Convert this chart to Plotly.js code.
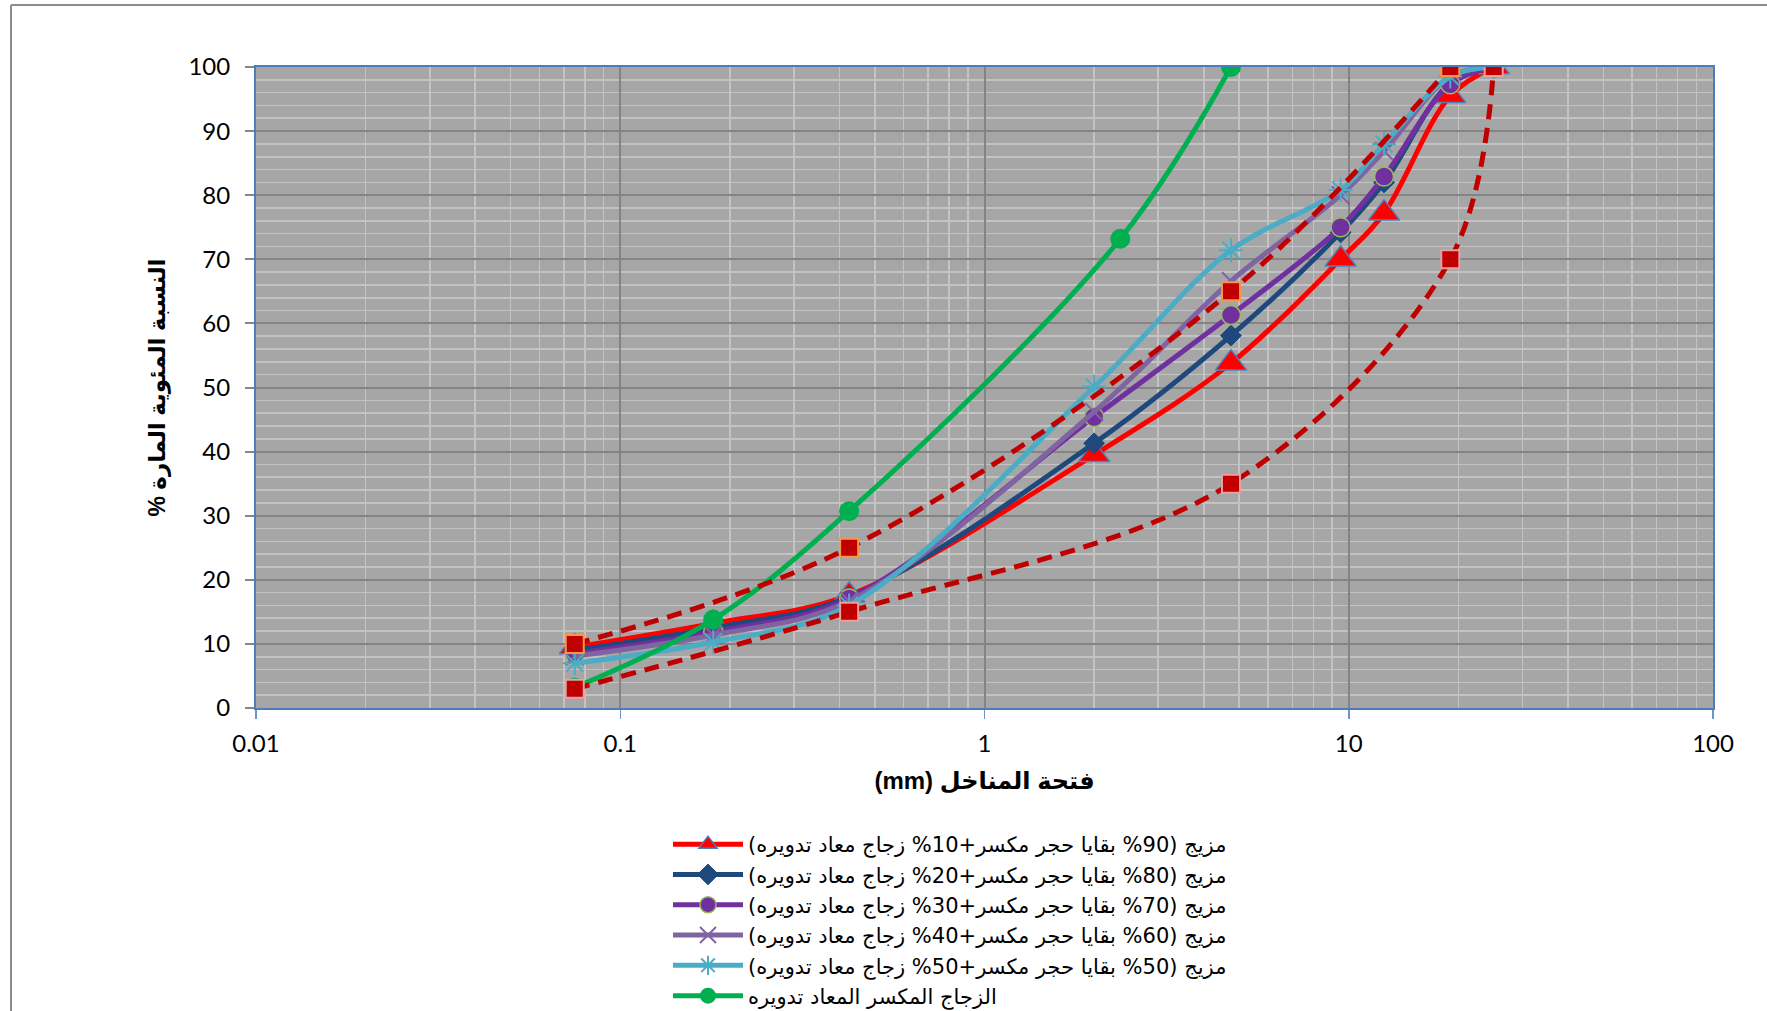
<!DOCTYPE html>
<html>
<head>
<meta charset="utf-8">
<script src="https://cdn.plot.ly/plotly-3.0.1.min.js"></script>
<style>
  html, body { margin: 0; padding: 0; background: #ffffff; }
  #chart { width: 1767px; height: 1011px; }
</style>
</head>
<body>
<div id="chart"></div>
<script>
// ---- data ----
const sieveSizes = [0.075, 0.18, 0.425, 2, 4.75, 9.5, 12.5, 19, 25];
const mix10 = [9.5, 13.2, 17.6, 39.5, 53.8, 70.0, 77.2, 95.5, 100];
const mix20 = [9.0, 12.5, 17.3, 41.3, 58.1, 74.2, 82.0, 97.5, 100];
const mix30 = [8.5, 11.9, 17.1, 45.4, 61.3, 75.0, 82.9, 97.3, 100];
const mix40 = [8.1, 11.4, 16.7, 46.2, 66.6, 80.0, 86.9, 98.5, 100];
const mix50 = [7.0, 10.3, 16.0, 50.1, 71.4, 80.8, 88.0, 98.5, 100];
const glassSizes = [0.075, 0.18, 0.425, 2.36, 4.75];
const glassPassing = [3.2, 13.8, 30.7, 73.2, 100];
const upperLimitSizes = [0.075, 0.425, 4.75, 19];
const upperLimit = [10, 25, 65, 100];
const lowerLimitSizes = [0.075, 0.425, 4.75, 19, 25];
const lowerLimit = [3, 15, 35, 70, 100];
const seriesNames = [
  "مزيج (90% بقايا حجر مكسر+10% زجاج معاد تدويره)",
  "مزيج (80% بقايا حجر مكسر+20% زجاج معاد تدويره)",
  "مزيج (70% بقايا حجر مكسر+30% زجاج معاد تدويره)",
  "مزيج (60% بقايا حجر مكسر+40% زجاج معاد تدويره)",
  "مزيج (50% بقايا حجر مكسر+50% زجاج معاد تدويره)",
  "الزجاج المكسر المعاد تدويره"
];
const xTickVals = [0.01, 0.1, 1, 10, 100];
const xTickText = ["0.01", "0.1", "1", "10", "100"];
const xTitle = "فتحة المناخل (mm)";
const yTitle = "النسبة المئوية المارة %";

// ---- helpers ----
const rtl = s => "\u202B" + s + "\u202C";
const textFont = 'Liberation Sans, DejaVu Sans, Arial, sans-serif';
const legendFont = 'DejaVu Sans, sans-serif';

function mixTrace(y, name, lineColor, marker) {
  return {
    x: sieveSizes, y: y, name: rtl(name), type: 'scatter', mode: 'lines+markers',
    line: { color: lineColor, width: 5, shape: 'spline', smoothing: 1 },
    marker: marker
  };
}

const traces = [
  mixTrace(mix10, seriesNames[0], '#ff0000',
    { symbol: 'triangle-up', size: 27, color: '#ff0000', line: { color: '#4f81bd', width: 1.5 } }),
  mixTrace(mix20, seriesNames[1], '#1f497d',
    { symbol: 'diamond', size: 16, color: '#1f497d', line: { color: '#1f497d', width: 1 } }),
  mixTrace(mix30, seriesNames[2], '#7030a0',
    { symbol: 'circle', size: 19, color: '#7030a0', line: { color: '#9bbb59', width: 1.5 } }),
  mixTrace(mix40, seriesNames[3], '#8064a2',
    { symbol: 'x-thin-open', size: 18, color: '#8064a2', line: { color: '#8064a2', width: 2 } }),
  mixTrace(mix50, seriesNames[4], '#4bacc6',
    { symbol: 'asterisk-open', size: 20, color: '#4bacc6', line: { color: '#4bacc6', width: 2 } }),
  {
    x: glassSizes, y: glassPassing, name: rtl(seriesNames[5]), type: 'scatter', mode: 'lines+markers',
    line: { color: '#00b050', width: 5, shape: 'spline', smoothing: 1 },
    marker: { symbol: 'circle', size: 20, color: '#00b050' }
  },
  {
    x: upperLimitSizes, y: upperLimit, type: 'scatter', mode: 'lines+markers', showlegend: false,
    name: 'upper', line: { color: '#c00000', width: 5, dash: '15px,9px', shape: 'spline', smoothing: 1 },
    marker: { symbol: 'square', size: 18, color: '#c00000', line: { color: '#f79646', width: 2 } }
  },
  {
    x: lowerLimitSizes, y: lowerLimit, type: 'scatter', mode: 'lines+markers', showlegend: false,
    name: 'lower', line: { color: '#c00000', width: 5, dash: '15px,9px', shape: 'spline', smoothing: 1 },
    marker: { symbol: 'square', size: 18, color: '#c00000', line: { color: '#e8a0a0', width: 2 } }
  }
];

const L = 256, R = 54, T = 67, B = 303;
const W = 1767, H = 1011;
const pw = W - L - R, ph = H - T - B;
const px = v => (v - L) / pw;
const py = v => (H - B - v) / ph;

const layout = {
  width: W, height: H,
  margin: { l: L, r: R, t: T, b: B, autoexpand: false },
  paper_bgcolor: '#ffffff',
  plot_bgcolor: '#a6a6a6',
  showlegend: true,
  legend: {
    x: px(668), y: py(824), xanchor: 'left', yanchor: 'top',
    font: { family: legendFont, size: 21, color: '#000000' },
    itemwidth: 70, tracegroupgap: 0, bgcolor: 'rgba(0,0,0,0)'
  },
  xaxis: {
    type: 'log', range: [-2, 2],
    tickvals: xTickVals, ticktext: xTickText,
    tickfont: { family: 'Lato, Carlito, sans-serif', size: 24, color: '#000000' },
    ticks: 'outside', ticklen: 9, tickwidth: 1.5, tickcolor: '#6f95c8',
    ticklabelstandoff: 4,
    showline: true, linecolor: '#4a7ebb', linewidth: 2, mirror: true,
    showgrid: true, gridcolor: '#848484', gridwidth: 2,
    minor: { dtick: 'D1', showgrid: true, gridcolor: '#c3c3c3', gridwidth: 1.6, ticks: '' },
    zeroline: false,
    title: { text: rtl(xTitle), font: { family: textFont, size: 24, color: '#000000', weight: 'bold' }, standoff: 16 }
  },
  yaxis: {
    range: [0, 100], dtick: 10,
    tickfont: { family: 'Lato, Carlito, sans-serif', size: 24, color: '#000000' },
    ticks: 'outside', ticklen: 9, tickwidth: 2, tickcolor: '#868686',
    ticklabelstandoff: 10,
    showline: true, linecolor: '#4a7ebb', linewidth: 2, mirror: true,
    showgrid: true, gridcolor: '#848484', gridwidth: 2,
    minor: { dtick: 2, showgrid: true, gridcolor: '#c3c3c3', gridwidth: 1.6, ticks: '' },
    zeroline: false,
    title: { text: rtl(yTitle), font: { family: textFont, size: 23, color: '#000000', weight: 'bold' }, standoff: 16 }
  },
  shapes: [
    { type: 'line', xref: 'paper', yref: 'paper', x0: px(11), x1: px(1800), y0: py(5), y1: py(5),
      line: { color: '#8c8c8c', width: 2 } },
    { type: 'line', xref: 'paper', yref: 'paper', x0: px(11), x1: px(11), y0: py(5), y1: py(1100),
      line: { color: '#8c8c8c', width: 2 } }
  ]
};

Plotly.newPlot('chart', traces, layout, { displayModeBar: false, staticPlot: true });
</script>
</body>
</html>
